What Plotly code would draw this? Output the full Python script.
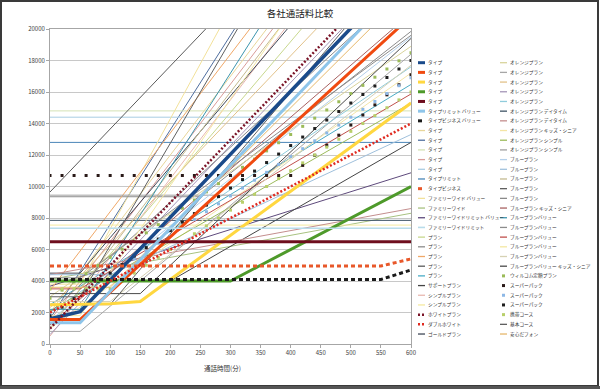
import plotly.graph_objects as go

# ---------------- data ----------------
minutes = [0, 50, 100, 150, 200, 250, 300, 350, 400, 450, 500, 550, 600]
marker_minutes = [0, 20, 40, 60, 80, 100, 120, 140, 160, 180, 200, 220, 240, 260, 280, 300,
                  320, 340, 360, 380, 400, 420, 440, 460, 480, 500, 520, 540, 560, 580, 600]

y_ticks = [0, 2000, 4000, 6000, 8000, 10000, 12000, 14000, 16000, 18000, 20000]
y_tick_labels = ["0", "2000", "4000", "6000", "8000", "10000", "12000", "14000", "16000", "18000", "20000"]
x_ticks = [0, 50, 100, 150, 200, 250, 300, 350, 400, 450, 500, 550, 600]

names_col1 = ["タイプ", "タイプ", "タイプ", "タイプ", "タイプ", "タイプリミット バリュー", "タイプビジネス バリュー",
              "タイプ", "タイプ", "タイプ", "タイプ", "タイプ", "タイプリミット", "タイプビジネス",
              "ファミリーワイド バリュー", "ファミリーワイド", "ファミリーワイドリミット バリュー", "ファミリーワイドリミット",
              "プラン", "プラン", "プラン", "プラン", "プラン", "サポートプラン", "シンプルプラン", "シンプルプラン",
              "ホワイトプラン", "ダブルホワイト", "ゴールドプラン"]
names_col2 = ["オレンジプラン", "オレンジプラン", "オレンジプラン", "オレンジプラン", "オレンジプラン",
              "オレンジプラン デイタイム", "オレンジプラン デイタイム", "オレンジプラン キッズ・シニア",
              "オレンジプラン シンプル", "オレンジプラン シンプル",
              "ブループラン", "ブループラン", "ブループラン", "ブループラン", "ブループラン",
              "ブループラン キッズ・シニア", "ブループランバリュー", "ブループランバリュー", "ブループランバリュー",
              "ブループランバリュー", "ブループランバリュー", "ブループランバリュー キッズ・シニア",
              "ウィルコム定額プラン", "スーパーパック", "スーパーパック", "スーパーパック",
              "携帯コース", "基本コース", "安心だフォン"]

docomo_values = [
    [1600, 2050, 4050, 6050, 8050, 10050, 12050, 14050, 16050, 18050, 20050, 22050, 24050],
    [1550, 1550, 3300, 5050, 6800, 8550, 10300, 12050, 13800, 15550, 17300, 19050, 20800],
    [2500, 2520, 2550, 2700, 4100, 5500, 6900, 8300, 9700, 11100, 12500, 13900, 15300],
    [4000, 4000, 4000, 4000, 4000, 4000, 4000, 5000, 6000, 7000, 8000, 9000, 10000],
    [6500, 6500, 6500, 6500, 6500, 6500, 6500, 6500, 6500, 6500, 6500, 6500, 6500],
    [1350, 1350, 3350, 5350, 7350, 9350, 11350, 13350, 15350, 17350, 19350, 21350, 23350],
    [4100, 4100, 4100, 4100, 4100, 4100, 4100, 4100, 4100, 4100, 4100, 4100, 4700],
    [2000, 4500, 7000, 9500, 12000, 14500, 17000, 19500, 22000, 24500, 27000, 29500, 32000],
    [1600, 4600, 7600, 10600, 13600, 16600, 19600, 22600, 25600, 28600, 31600, 34600, 37600],
    [14800, 14800, 14800, 14800, 14800, 14800, 14800, 14800, 14800, 14800, 14800, 14800, 14800],
    [1500, 4000, 6500, 9000, 11500, 14000, 16500, 19000, 21500, 24000, 26500, 29000, 31500],
    [14400, 14400, 14400, 14400, 14400, 14400, 14400, 14400, 14400, 14400, 14400, 14400, 14400],
    [12800, 12800, 12800, 12800, 12800, 12800, 12800, 12800, 12800, 12800, 12800, 12800, 12800],
    [4950, 4950, 4950, 4950, 4950, 4950, 4950, 4950, 4950, 4950, 4950, 4950, 5400],
    [3800, 3800, 7300, 10800, 14300, 17800, 21300, 24800, 28300, 31800, 35300, 38800, 42300],
    [4100, 4450, 4800, 5150, 5500, 5850, 6200, 6550, 6900, 7250, 7600, 7950, 8300],
    [3670, 4270, 4870, 5470, 6070, 6670, 7270, 7870, 8470, 9070, 9670, 10270, 10870],
    [7350, 7350, 7350, 7350, 7350, 7350, 7350, 7350, 7350, 7350, 7350, 7350, 7350],
]
au_values = [
    [1200, 3450, 5700, 7950, 10200, 12450, 14700, 16950, 19200, 21450, 23700, 25950, 28200],
    [9350, 9350, 9350, 9350, 9350, 9350, 10850, 12350, 13850, 15350, 16850, 18350, 19850],
    [3400, 5900, 8400, 10900, 13400, 15900, 18400, 20900, 23400, 25900, 28400, 30900, 33400],
    [9650, 11650, 13650, 15650, 17650, 19650, 21650, 23650, 25650, 27650, 29650, 31650, 33650],
    [2500, 3665, 4830, 5995, 7160, 8325, 9490, 10655, 11820, 12985, 14150, 15315, 16480],
    [4000, 4000, 4000, 4000, 4000, 5100, 6200, 7300, 8400, 9500, 10600, 11700, 12800],
    [500, 3000, 5500, 8000, 10500, 13000, 15500, 18000, 20500, 23000, 25500, 28000, 30500],
    [7550, 7550, 7550, 7550, 7550, 7550, 7550, 7550, 7550, 7550, 7550, 7550, 7550],
]
softbank_values = [
    [980, 2980, 4980, 6980, 8980, 10980, 12980, 14980, 16980, 18980, 20980, 22980, 24980],
    [2000, 3000, 4000, 5000, 6000, 7000, 8000, 9000, 10000, 11000, 12000, 13000, 14000],
    [4500, 4500, 6750, 9000, 11250, 13500, 15750, 18000, 20250, 22500, 24750, 27000, 29250],
    [3000, 4325, 5650, 6975, 8300, 9625, 10950, 12275, 13600, 14925, 16250, 17575, 18900],
    [800, 800, 2400, 4000, 5600, 7200, 8800, 10400, 12000, 13600, 15200, 16800, 18400],
    [2300, 4300, 6300, 8300, 10300, 12300, 14300, 16300, 18300, 20300, 22300, 24300, 26300],
    [600, 2600, 4600, 6600, 8600, 10600, 12600, 14600, 16600, 18600, 20600, 22600, 24600],
    [2000, 3300, 4600, 5900, 7200, 8500, 9800, 11100, 12400, 13700, 15000, 16300, 17600],
    [7850, 7850, 7850, 7850, 7850, 7850, 7850, 7850, 7850, 7850, 7850, 7850, 7850],
    [4400, 4750, 5100, 5450, 5800, 6150, 6500, 6850, 7200, 7550, 7900, 8250, 8600],
    [1000, 2350, 3700, 5050, 6400, 7750, 9100, 10450, 11800, 13150, 14500, 15850, 17200],
    [2100, 3200, 4300, 5400, 6500, 7600, 8700, 9800, 10900, 12000, 13100, 14200, 15300],
    [9450, 9450, 9450, 9450, 9450, 9450, 9450, 9450, 9450, 9450, 9450, 9450, 9450],
    [1500, 3000, 4500, 6000, 7500, 9000, 10500, 12000, 13500, 15000, 16500, 18000, 19500],
    [4400, 4400, 4400, 5290, 6180, 7070, 7960, 8850, 9740, 10630, 11520, 12410, 13300],
    [1000, 3500, 6000, 8500, 11000, 13500, 16000, 18500, 21000, 23500, 26000, 28500, 31000],
    [3000, 3000, 6250, 9500, 12750, 16000, 19250, 22500, 25750, 29000, 32250, 35500, 38750],
    [2000, 3750, 5500, 7250, 9000, 10750, 12500, 14250, 16000, 17750, 19500, 21250, 23000],
    [1200, 2850, 4500, 6150, 7800, 9450, 11100, 12750, 14400, 16050, 17700, 19350, 21000],
    [2200, 2200, 5200, 8200, 11200, 14200, 17200, 20200, 23200, 26200, 29200, 32200, 35200],
    [4200, 4200, 5600, 7000, 8400, 9800, 11200, 12600, 14000, 15400, 16800, 18200, 19600],
    [3500, 3500, 4625, 5750, 6875, 8000, 9125, 10250, 11375, 12500, 13625, 14750, 15875],
    [1800, 1800, 4550, 7300, 10050, 12800, 15550, 18300, 21050, 23800, 26550, 29300, 32050],
    [2700, 2700, 2700, 4200, 5700, 7200, 8700, 10200, 11700, 13200, 14700, 16200, 17700],
    [3200, 3200, 3200, 3200, 5000, 6800, 8600, 10400, 12200, 14000, 15800, 17600, 19400],
]
willcom_marker_values = [
    [2900, 3420, 3940, 4460, 4980, 5500, 6020, 6540, 7060, 7580, 8100, 8620, 9140, 9660, 10180, 10700,
     11220, 11740, 12260, 12780, 13300, 13820, 14340, 14860, 15380, 15900, 16420, 16940, 17460, 17980, 18500],
    [10700, 10700, 10700, 10700, 10700, 10700, 10700, 10700, 10700, 10700, 10700, 10700, 10700, 10700, 10700, 10700,
     10700, 10700, 10700, 10700, 10700, 11340, 11980, 12620, 13260, 13900, 14540, 15180, 15820, 16460, 17100],
    [1900, 2400, 2900, 3400, 3900, 4400, 4900, 5400, 5900, 6400, 6900, 7400, 7900, 8400, 8900, 9400,
     9900, 10400, 10900, 11400, 11900, 12400, 12900, 13400, 13900, 14400, 14900, 15400, 15900, 16400, 16900],
    [1800, 2340, 2880, 3420, 3960, 4500, 5040, 5580, 6120, 6660, 7200, 7740, 8280, 8820, 9360, 9900,
     10440, 10980, 11520, 12060, 12600, 13140, 13680, 14220, 14760, 15300, 15840, 16380, 16920, 17460, 18000],
    [3500, 3500, 3500, 3500, 3500, 3500, 4000, 4500, 5000, 5500, 6000, 6500, 7000, 7500, 8000, 8500,
     9000, 9500, 10000, 10500, 11000, 11500, 12000, 12500, 13000, 13500, 14000, 14500, 15000, 15500, 16000],
]
willcom_line_values = [
    [2500, 2500, 2500, 4750, 7000, 9250, 11500, 13750, 16000, 18250, 20500, 22750, 25000],
    [3600, 3600, 3600, 5500, 7400, 9300, 11200, 13100, 15000, 16900, 18800, 20700, 22600],
]

# ---------------- styles ----------------
colors = ["#1A4A8A", "#F04A10", "#FFD740", "#4E9A2A", "#6E0E1E", "#8EC5EA", "#1A1A1A",
          "#E8D69A", "#4F6E9F", "#D4E2B4", "#D99C99", "#A9CCE3", "#4A86B8", "#E8582A",
          "#F2E19A", "#A8C280", "#5E4A7C", "#B8DCEA",
          "#C8D88E", "#8C8C8C", "#F0A868", "#5A5A5A", "#4BACC6", "#454545", "#E8B8B0", "#F5EAA0",
          "#7A1428", "#E02A20", "#404858",
          "#D9D49C", "#A6A6A6", "#E2C28A", "#A496B8", "#90CCDC", "#3F5466", "#C48E8E", "#F4E5A6",
          "#9CBB5C", "#A0A0A0", "#B5D0EA", "#9FC0DC", "#C4BA90", "#606060", "#8A8A8A", "#A86262",
          "#3C95AE", "#8C8C8C", "#C0504D", "#F4E7A2", "#D6D2B4", "#4A4A4A",
          "#9BBB59", "#2A1A18", "#8DB8E6", "#1E1E1E", "#B8CF6A", "#606060", "#E6B86C"]
thick = {0: 3.5, 1: 3, 2: 3, 3: 3, 4: 3, 5: 3, 6: 3, 13: 3, 26: 2.5, 27: 2.5, 17: 1.6}
dashes = {6: "4px,3px", 13: "4px,3px", 26: "2px,2px", 27: "2px,2px"}
marker_ids = [51, 52, 53, 54, 55]

names = names_col1 + names_col2
values = docomo_values + au_values + softbank_values + willcom_marker_values + willcom_line_values
xs = [minutes] * 51 + [marker_minutes] * 5 + [minutes] * 2

fig = go.Figure()

order = ([i for i in range(58) if i not in thick and i not in marker_ids]
         + marker_ids + [i for i in range(58) if i in thick])
for i in order:
    if i in marker_ids:
        fig.add_trace(go.Scatter(x=xs[i], y=values[i], mode="markers", name=names[i],
                                 marker=dict(symbol="square", size=3, color=colors[i])))
    else:
        fig.add_trace(go.Scatter(x=xs[i], y=values[i], mode="lines", name=names[i],
                                 line=dict(color=colors[i], width=thick.get(i, 1),
                                           dash=dashes.get(i, "solid"))))

FONT = "Noto Sans CJK JP, Noto Sans, sans-serif"
L, R, T, B, W, H = 50, 189, 29, 45, 600, 389
PW, PH = W - L - R, H - T - B


def px2x(px):
    return (px - L) / PW


def py2y(py):
    return (H - B - py) / PH


shapes = []
annotations = []
for i in range(58):
    col, row = divmod(i, 29)
    yc = 62.7 + row * 9.69
    sx0 = 418 if col == 0 else 500
    tx = 426 if col == 0 else 508
    if i in marker_ids:
        shapes.append(dict(type="rect", xref="paper", yref="paper",
                           x0=px2x(sx0 + 2), x1=px2x(sx0 + 5), y0=py2y(yc + 1.5), y1=py2y(yc - 1.5),
                           fillcolor=colors[i], line=dict(width=0)))
    else:
        shapes.append(dict(type="line", xref="paper", yref="paper",
                           x0=px2x(sx0), x1=px2x(sx0 + 7), y0=py2y(yc), y1=py2y(yc),
                           line=dict(color=colors[i], width=min(thick.get(i, 1.3), 3),
                                     dash=dashes.get(i, "solid"))))
    annotations.append(dict(text=names[i], xref="paper", yref="paper", x=px2x(tx), y=py2y(yc),
                            xanchor="left", yanchor="middle", showarrow=False,
                            font=dict(family=FONT, size=4.7, color="#333333")))

# axis title
annotations.append(dict(text="通話時間(分)", xref="paper", yref="paper", x=px2x(222), y=py2y(368),
                        xanchor="center", yanchor="middle", showarrow=False,
                        font=dict(family=FONT, size=6.5, color="#333333")))

# outer chart frame
shapes.append(dict(type="rect", xref="paper", yref="paper", x0=px2x(1), x1=px2x(598),
                   y0=py2y(386), y1=py2y(1), line=dict(color="#3A3A3A", width=2)))
shapes.append(dict(type="line", xref="paper", yref="paper", x0=px2x(0), x1=px2x(600),
                   y0=py2y(387.5), y1=py2y(387.5), line=dict(color="#555555", width=3)))

fig.update_layout(
    width=W, height=H, margin=dict(l=L, r=R, t=T, b=B, autoexpand=False),
    paper_bgcolor="white", plot_bgcolor="white", showlegend=False,
    font=dict(family=FONT, size=6, color="#404040"),
    title=dict(text="各社通話料比較", x=0.5, xref="container", xanchor="center",
               y=1 - 14 / H, yref="container", yanchor="middle",
               font=dict(family=FONT, size=9.5, color="#222222")),
    xaxis=dict(range=[0, 600], tickvals=x_ticks, showgrid=False, zeroline=False,
               showline=True, linecolor="#A6A6A6", linewidth=1, mirror=True,
               ticks="outside", ticklen=3, tickcolor="#A6A6A6",
               tickfont=dict(family=FONT, size=6, color="#404040")),
    yaxis=dict(range=[0, 20000], tickvals=y_ticks, ticktext=y_tick_labels,
               showgrid=True, gridcolor="#C8C8C8", gridwidth=1,
               zeroline=False, showline=True, linecolor="#A6A6A6", linewidth=1, mirror=True,
               ticks="outside", ticklen=3, tickcolor="#A6A6A6",
               tickfont=dict(family=FONT, size=6, color="#404040")),
    shapes=shapes, annotations=annotations,
)

fig.write_html("out.html", config={"displayModeBar": False},
               post_script="document.body.style.margin='0px';document.body.style.overflow='hidden';")
